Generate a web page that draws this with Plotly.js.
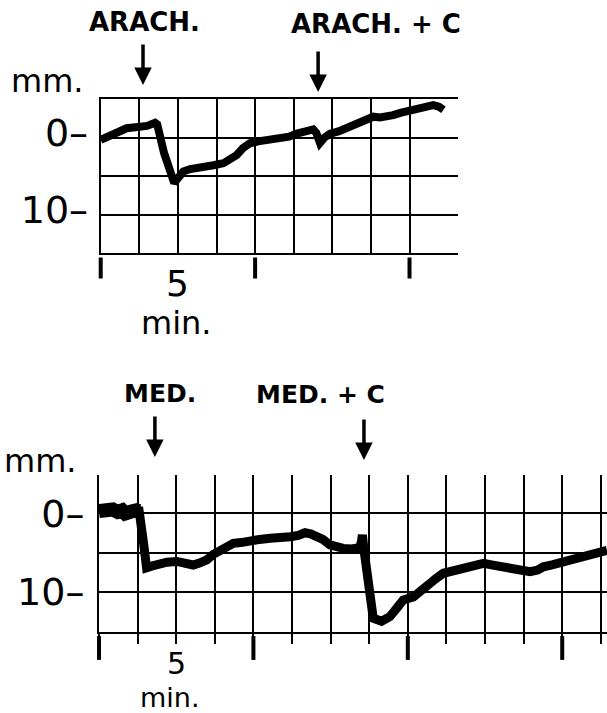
<!DOCTYPE html>
<html>
<head>
<meta charset="utf-8">
<script src="https://cdn.plot.ly/plotly-3.0.1.min.js"></script>
<style>
html,body{margin:0;padding:0;background:#fff;}
#chart{width:607px;height:713px;}
</style>
</head>
<body>
<div id="chart"></div>
<script>
// ---- Data (time in min, deflection in mm; positive = downward) ----
const arachTime = [0, 0.2, 0.41, 0.6, 0.84, 1.05, 1.27, 1.5, 1.76, 1.83, 2.05, 2.3, 2.38, 2.5, 2.68, 2.9, 3.11, 3.35, 3.65, 3.97, 4.2, 4.4, 4.6, 4.83, 5.1, 5.38, 5.8, 6.1, 6.35, 6.6, 6.88, 6.98, 7.1, 7.25, 7.43, 7.7, 7.97, 8.25, 8.5, 8.83, 9.04, 9.25, 9.47, 9.7, 9.91, 10.1, 10.34, 10.55, 10.77, 10.95, 11.1];
const arachDepth = [0.3, -0.1, -0.55, -0.8, -1.2, -1.3, -1.4, -1.5, -1.9, -1.7, 2.0, 5.2, 5.9, 5.3, 4.4, 4.1, 3.9, 3.8, 3.6, 3.35, 2.9, 2.3, 1.4, 0.75, 0.5, 0.35, 0.25, -0.1, -0.5, -0.7, -1.05, -0.6, 0.7, 0.0, -0.5, -0.8, -1.2, -1.6, -2.0, -2.7, -2.6, -2.7, -2.9, -3.2, -3.35, -3.5, -3.8, -4.0, -4.2, -4.0, -3.6];

const medTime = [0, 0.15, 0.3, 0.45, 0.6, 0.75, 0.85, 1.0, 1.1, 1.22, 1.3, 1.45, 1.54, 1.7, 1.97, 2.2, 2.52, 2.8, 3.05, 3.25, 3.49, 3.7, 3.92, 4.15, 4.35, 4.6, 4.89, 5.2, 5.54, 5.85, 6.19, 6.45, 6.67, 6.85, 7.05, 7.25, 7.48, 7.7, 7.91, 8.2, 8.45, 8.5, 8.53, 8.58, 8.7, 8.88, 9.15, 9.42, 9.65, 9.85, 10.18, 10.4, 10.61, 10.9, 11.15, 11.5, 11.8, 12.1, 12.45, 12.8, 13.1, 13.5, 13.96, 14.2, 14.39, 14.7, 15.04, 15.35, 15.68, 16.0, 16.33, 16.45];
const medDepth = [-0.3, -0.5, -0.3, -0.5, -0.2, -0.4, 0.0, -0.4, -0.3, -0.4, -0.3, 4.0, 6.9, 6.7, 6.35, 6.2, 6.1, 6.3, 6.55, 6.3, 5.9, 5.2, 4.65, 4.1, 3.8, 3.7, 3.4, 3.3, 3.16, 3.2, 2.96, 2.8, 2.45, 2.6, 2.87, 3.3, 4.0, 4.3, 4.44, 4.5, 4.3, 3.5, 2.74, 4.6, 9.0, 13.3, 13.7, 13.1, 12.0, 11.0, 10.6, 10.0, 9.3, 8.3, 7.6, 7.2, 6.97, 6.7, 6.34, 6.6, 6.85, 7.1, 7.4, 7.2, 6.77, 6.5, 6.13, 5.7, 5.28, 5.0, 4.74, 4.7];
const medBaselineCount = 11; // resting segment drawn as a heavier band

const arachMarkTimes = [0, 5, 10];
const medMarkTimes = [0, 5, 10, 15];
const arachEvents = [{label: "ARACH.", t: 1.37}, {label: "ARACH. + C", t: 7.04}];
const medEvents = [{label: "MED.", t: 1.81}, {label: "MED. + C", t: 8.58}];
const arachGridTimes = [0, 1.25, 2.5, 3.75, 5, 6.25, 7.5, 8.75, 10];
const yTickVals = [-5, 0, 5, 10, 15];
const yTickText = ["", "0–", "", "10–", ""];
const yTickVals2 = [0, 5, 10, 15];
const yTickText2 = ["0–", "", "10–", ""];

// ---- Traces ----
const traces = [
  {x: arachTime, y: arachDepth, xaxis: "x", yaxis: "y", mode: "lines",
   line: {color: "#000", width: 8, shape: "linear"}},
  {x: arachMarkTimes, y: arachMarkTimes.map(() => 0.5), xaxis: "x3", yaxis: "y3", mode: "markers",
   cliponaxis: false, marker: {symbol: "line-ns", size: 15, color: "#000", line: {color: "#000", width: 4}}},
  {x: medTime, y: medDepth, xaxis: "x2", yaxis: "y2", mode: "lines",
   line: {color: "#000", width: 9, shape: "linear"}},
  {x: medTime.slice(0, medBaselineCount), y: medDepth.slice(0, medBaselineCount), xaxis: "x2", yaxis: "y2", mode: "lines",
   line: {color: "#000", width: 14, shape: "linear"}},
  {x: medMarkTimes, y: medMarkTimes.map(() => 0.5), xaxis: "x4", yaxis: "y4", mode: "markers",
   cliponaxis: false, marker: {symbol: "line-ns", size: 17, color: "#000", line: {color: "#000", width: 4}}}
];

const px = v => v / 607;
const py = v => 1 - v / 713;
const unitFont = {family: "DejaVu Sans", size: 32, color: "#000"};

const annotations = [];
const evLabelPos = [[144, 22, 26], [376, 24, 26]];
arachEvents.forEach((e, i) => {
  annotations.push({xref: "paper", yref: "paper", x: px(evLabelPos[i][0]), y: py(evLabelPos[i][1]),
    text: "<b>" + e.label + "</b>", showarrow: false, xanchor: "center", yanchor: "middle",
    font: {family: "DejaVu Sans", size: evLabelPos[i][2], color: "#000"}});
});
const medLabelPos = [[160, 393, 25], [321, 394, 25]];
medEvents.forEach((e, i) => {
  annotations.push({xref: "paper", yref: "paper", x: px(medLabelPos[i][0]), y: py(medLabelPos[i][1]),
    text: "<b>" + e.label + "</b>", showarrow: false, xanchor: "center", yanchor: "middle",
    font: {family: "DejaVu Sans", size: medLabelPos[i][2], color: "#000"}});
});
const arachArrowTip = [85, 92];
arachEvents.forEach((e, i) => {
  annotations.push({xref: "x", yref: "paper", x: e.t, y: py(arachArrowTip[i]), text: "",
    showarrow: true, ax: 0, ay: -42, arrowhead: 2, arrowsize: 1, arrowwidth: 3.5, arrowcolor: "#000"});
});
const medArrowTip = [457, 460];
medEvents.forEach((e, i) => {
  annotations.push({xref: "x2", yref: "paper", x: e.t, y: py(medArrowTip[i]), text: "",
    showarrow: true, ax: 0, ay: -42, arrowhead: 2, arrowsize: 1, arrowwidth: 3.5, arrowcolor: "#000"});
});
annotations.push({xref: "paper", yref: "paper", x: px(47), y: py(81), text: "mm.", showarrow: false,
  xanchor: "center", yanchor: "middle", font: unitFont});
annotations.push({xref: "paper", yref: "paper", x: px(40), y: py(461), text: "mm.", showarrow: false,
  xanchor: "center", yanchor: "middle", font: unitFont});
// time-scale labels, stacked tightly
const scaleLabels = [
  {text: "5", x: 177, y: 283, size: 36},
  {text: "min.", x: 176, y: 323, size: 32},
  {text: "5", x: 176, y: 663.5, size: 30},
  {text: "min.", x: 170, y: 697, size: 27}
];
scaleLabels.forEach(s => {
  annotations.push({xref: "paper", yref: "paper", x: px(s.x), y: py(s.y), text: s.text, showarrow: false,
    xanchor: "center", yanchor: "middle", borderpad: 0,
    font: {family: "DejaVu Sans", size: s.size, color: "#000"}});
});

const gridAxis = {showgrid: true, gridcolor: "#000", gridwidth: 2, zeroline: false,
  showline: true, linecolor: "#000", linewidth: 2};
const tickFont = {family: "DejaVu Sans", size: 38, color: "#000"};
const topXDomain = [100.7 / 607, 458 / 607];
const topXRange = [0, 11.57];
const botXDomain = [99 / 607, 1];
const botXRange = [0, 16.45];
const hidden = {visible: false, showgrid: false, zeroline: false};

const layout = {
  width: 607, height: 713,
  margin: {l: 0, r: 0, t: 0, b: 0},
  paper_bgcolor: "#fff", plot_bgcolor: "#fff",
  showlegend: false,
  xaxis: Object.assign({}, gridAxis, {domain: topXDomain, range: topXRange, mirror: true,
    tickmode: "array", tickvals: arachGridTimes, showticklabels: false, ticks: "", anchor: "y"}),
  yaxis: Object.assign({}, gridAxis, {domain: [py(253), py(99)], range: [15, -5],
    tickmode: "array", tickvals: yTickVals, ticktext: yTickText, ticks: "", anchor: "x",
    ticklabelstandoff: 3, ticklabelshift: 5, tickfont: tickFont}),
  xaxis2: Object.assign({}, gridAxis, {domain: botXDomain, range: botXRange,
    tick0: 0, dtick: 1.25, showticklabels: false, ticks: "outside", ticklen: 10, tickwidth: 2,
    tickcolor: "#000", anchor: "y2"}),
  yaxis2: Object.assign({}, gridAxis, {domain: [py(631.5), py(474.9)], range: [15, -4.9],
    tickmode: "array", tickvals: yTickVals2, ticktext: yTickText2, ticks: "", anchor: "x2",
    ticklabelstandoff: 5, tickfont: tickFont}),
  xaxis3: Object.assign({}, hidden, {domain: topXDomain, range: topXRange, anchor: "y3"}),
  yaxis3: Object.assign({}, hidden, {domain: [py(282), py(254)], range: [0, 1], anchor: "x3"}),
  xaxis4: Object.assign({}, hidden, {domain: botXDomain, range: botXRange, anchor: "y4"}),
  yaxis4: Object.assign({}, hidden, {domain: [py(662), py(634)], range: [0, 1], anchor: "x4"}),
  annotations: annotations
};

Plotly.newPlot("chart", traces, layout, {staticPlot: true, displayModeBar: false});
</script>
</body>
</html>
